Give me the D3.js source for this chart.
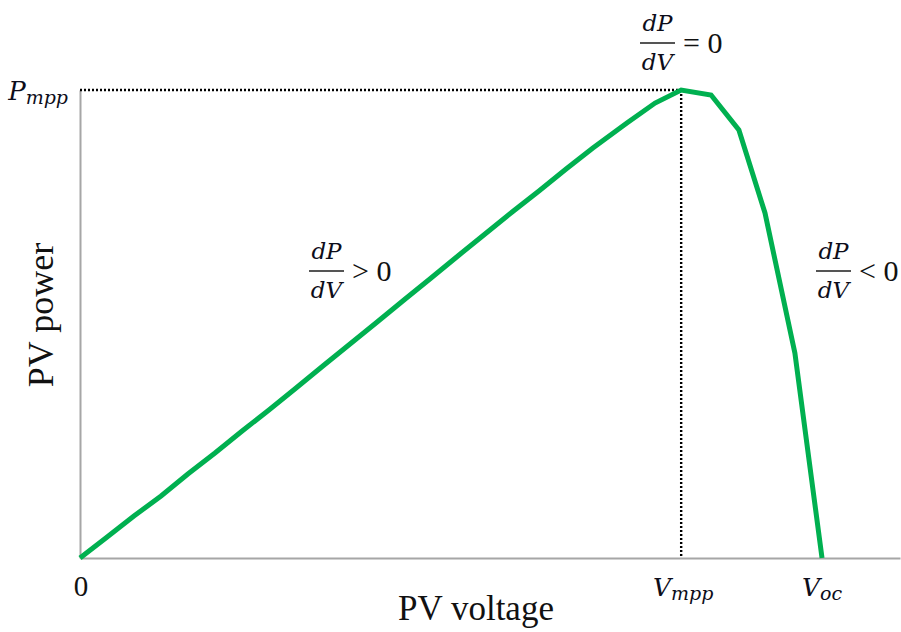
<!DOCTYPE html>
<html>
<head>
<meta charset="utf-8">
<script src="https://cdn.jsdelivr.net/npm/d3@7/dist/d3.min.js"></script>
<style>
  html, body { margin: 0; padding: 0; background: #fff; }
  svg { display: block; }
  .serif { font-family: "Liberation Serif", "Times New Roman", serif; fill: #111; }
  .math { font-family: "DejaVu Serif", serif; font-style: italic; fill: #0d0d1a; }
</style>
</head>
<body>
<svg id="chart" width="901" height="632"></svg>
<script>
// PV module P–V characteristic (voltage in V, power in W)
const voltage = [0, 0.79, 1.57, 2.36, 3.14, 3.93, 4.72, 5.50, 6.29, 7.07, 7.86, 8.65, 9.43, 10.22,
                 11.00, 11.79, 12.58, 13.36, 14.15, 14.93, 15.92, 16.74, 17.50, 18.37, 19.18,
                 19.94, 20.81, 21.60];
const power   = [0, 2.69, 5.38, 7.95, 10.77, 13.46, 16.28, 18.97, 21.79, 24.62, 27.44, 30.26, 33.08,
                 35.90, 38.72, 41.54, 44.36, 47.05, 49.87, 52.56, 55.77, 58.33, 60.00, 59.36, 54.87,
                 44.23, 26.28, 0];

// operating points marked on the axes
const Vmpp = 17.5;
const Voc = 21.6;
const Pmpp = 60;
const voltageMax = 23.87;

const svg = d3.select("#chart");

const x = d3.scaleLinear().domain([0, voltageMax]).range([80, 900]);
const y = d3.scaleLinear().domain([0, Pmpp]).range([558, 90]);

// axes: plain grey lines without ticks
const xAxis = svg.append("g")
  .attr("transform", `translate(0,${y(0)})`)
  .call(d3.axisBottom(x).tickValues([]).tickSizeOuter(0));
const yAxis = svg.append("g")
  .attr("transform", `translate(${x(0)},0)`)
  .call(d3.axisLeft(y).tickValues([]).tickSizeOuter(0));
[xAxis, yAxis].forEach(g => g.select(".domain")
  .attr("stroke", "#a6a6a6").attr("stroke-width", 2));

// dotted guides to the maximum power point
const guides = svg.append("g")
  .attr("stroke", "#000").attr("stroke-width", 2.4)
  .attr("stroke-dasharray", "2,2").attr("fill", "none");
guides.append("line")
  .attr("x1", x(0)).attr("x2", x(Vmpp)).attr("y1", y(Pmpp)).attr("y2", y(Pmpp));
guides.append("line")
  .attr("x1", x(Vmpp)).attr("x2", x(Vmpp)).attr("y1", y(Pmpp)).attr("y2", y(0));

// P–V curve
const pts = voltage.map((v, i) => [v, power[i]]);
svg.append("path")
  .datum(pts)
  .attr("fill", "none")
  .attr("stroke", "#00b050")
  .attr("stroke-width", 5)
  .attr("stroke-linejoin", "miter")
  .attr("d", d3.line().x(d => x(d[0])).y(d => y(d[1])));

// axis titles
svg.append("text").attr("class", "serif")
  .attr("x", 476).attr("y", 620)
  .attr("text-anchor", "middle").attr("font-size", 35)
  .text("PV voltage");
svg.append("text").attr("class", "serif")
  .attr("transform", "translate(53,315) rotate(-90)")
  .attr("text-anchor", "middle").attr("font-size", 36)
  .text("PV power");

// axis point labels
svg.append("text").attr("class", "serif")
  .attr("x", x(0) + 1).attr("y", 596)
  .attr("text-anchor", "middle").attr("font-size", 29)
  .text("0");

function subLabel(px, py, main, sub, size, subSize, anchor) {
  const t = svg.append("text").attr("class", "math")
    .attr("x", px).attr("y", py).attr("text-anchor", anchor).attr("font-size", size);
  t.append("tspan").text(main);
  t.append("tspan").attr("font-size", subSize).attr("dy", 4).text(sub);
  return t;
}
subLabel(x(Vmpp) + 2, 596, "V", "mpp", 25, 19, "middle");
subLabel(x(Voc), 596, "V", "oc", 25, 19, "middle");
subLabel(x(0) - 12, y(Pmpp) + 10, "P", "mpp", 26, 19, "end");

// derivative annotations dP/dV
function derivative(left, barY, rel) {
  const w = 35, cx = left + w / 2;
  const g = svg.append("g");
  g.append("text").attr("class", "math")
    .attr("x", cx).attr("y", barY - 12).attr("text-anchor", "middle").attr("font-size", 23)
    .text("dP");
  g.append("line")
    .attr("x1", left).attr("x2", left + w).attr("y1", barY).attr("y2", barY)
    .attr("stroke", "#555").attr("stroke-width", 1.8);
  g.append("text").attr("class", "math")
    .attr("x", cx).attr("y", barY + 27).attr("text-anchor", "middle").attr("font-size", 23)
    .text("dV");
  g.append("text").attr("class", "serif")
    .attr("x", left + w + 8).attr("y", barY + 10).attr("font-size", 30)
    .text(rel);
}
derivative(640, 43, "= 0");
derivative(309, 271, "> 0");
derivative(816, 271, "< 0");
</script>
</body>
</html>
